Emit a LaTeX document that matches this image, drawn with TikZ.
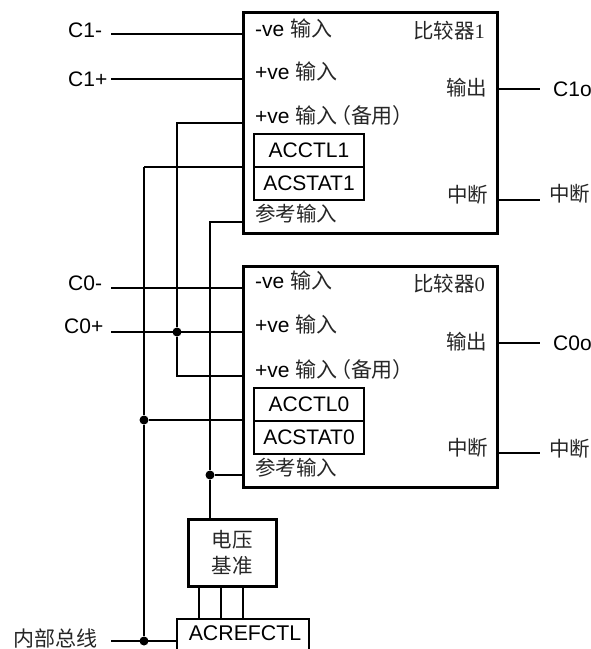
\documentclass[tikz,border=0pt]{standalone}
\usepackage{fontspec}
\setmainfont{Liberation Sans}
\newfontfamily\cjk{Noto Sans CJK SC}
\newfontfamily\numf{Liberation Serif}
\begin{document}
\begin{tikzpicture}[x=1pt,y=-1pt,
  cmpbox/.style={draw,line width=3pt,minimum width=254pt,minimum height=221pt,inner sep=0pt,outer sep=0pt},
  regbox/.style={draw,line width=1.2pt,minimum width=110pt,minimum height=33pt,inner sep=0pt,outer sep=0pt,font=\fontsize{21}{25}\selectfont},
  vrefbox/.style={draw,line width=3pt,minimum width=88pt,minimum height=67pt,inner sep=0pt,outer sep=0pt,align=center,font=\fontsize{20.5}{26}\selectfont\cjk\color{black!85}},
  txt/.style={anchor=base west,inner sep=0pt,font=\fontsize{21}{25}\selectfont},
  zh/.style={anchor=base west,inner sep=0pt,font=\fontsize{20.5}{25}\selectfont\cjk\color{black!85}},
  wire/.style={line width=1.3pt},
  thick bus/.style={line width=2.2pt},
  jdot/.style={circle,fill=black,inner sep=0pt,minimum size=9pt}]
\useasboundingbox (0,0) rectangle (591,649);
% ---- comparators
\node[cmpbox] (cmpA) at (370,123) {};
\node[cmpbox] (cmpB) at (370,376.5) {};
\node[regbox] (ctlA) at (309,150.5) {ACCTL1};
\node[regbox] (statA) at (309,183.5) {ACSTAT1};
\node[regbox] (ctlB) at (309,404.5) {ACCTL0};
\node[regbox] (statB) at (309,437.5) {ACSTAT0};
% ---- inner labels, comparator 1
\node[txt] (a1) at (255,36) {-ve {\cjk\color{black!85} 输入}};
\node[txt] (a2) at (255,79) {+ve {\cjk\color{black!85} 输入}};
\node[txt] (a3) at (255,123) {+ve {\cjk\color{black!85} 输入\kern-7pt（备\kern-1pt 用）}};
\node[zh] (a4) at (255,221) {参考输入};
\node[zh] (a5) at (413,38) {比较器{\numf 1}};
\node[zh] (a6) at (446,95) {输出};
\node[zh] (a7) at (447,202) {中断};
% ---- inner labels, comparator 0
\node[txt] (b1) at (255,288) {-ve {\cjk\color{black!85} 输入}};
\node[txt] (b2) at (255,332) {+ve {\cjk\color{black!85} 输入}};
\node[txt] (b3) at (255,377) {+ve {\cjk\color{black!85} 输入\kern-7pt（备\kern-1pt 用）}};
\node[zh] (b4) at (255,475) {参考输入};
\node[zh] (b5) at (413,291) {比较器{\numf 0}};
\node[zh] (b6) at (446,349) {输出};
\node[zh] (b7) at (447,455) {中断};
% ---- outer labels
\node[txt] (c1m) at (68,37) {C1-};
\node[txt] (c1p) at (68,86) {C1+};
\node[txt] (c0m) at (68,290) {C0-};
\node[txt] (c0p) at (64,333) {C0+};
\node[txt] (c1o) at (553,96) {C1o};
\node[txt] (c0o) at (553,350) {C0o};
\node[zh] (i1) at (549,201) {中断};
\node[zh] (i0) at (549,456) {中断};
\node[zh,font=\fontsize{21}{25}\selectfont\cjk\color{black!85}] (ibus) at (13,646) {内部总线};
% ---- voltage reference and ACREFCTL
\node[vrefbox] (vref) at (232,552.5) {电压\\基准};
\node[inner sep=0pt,font=\fontsize{21.3}{25}\selectfont,anchor=base] (acref) at (245,640) {ACREFCTL};
\draw[line width=1.2pt] (177,652) |- (309,619) -- (309,652);
% ---- free wire ends and ports
\coordinate (wC1m) at (111,34);
\coordinate (wC1p) at (111,79);
\coordinate (wC0m) at (111,288);
\coordinate (wC0p) at (111,332);
\coordinate (wBus) at (111,641);
\coordinate (pC1m) at (243,34);
\coordinate (pC1p) at (243,79);
\coordinate (pC1a) at (243,123);
\coordinate (pC1b) at (243,167);
\coordinate (pC1r) at (243,222);
\coordinate (pC0m) at (243,288);
\coordinate (pC0p) at (243,332);
\coordinate (pC0a) at (243,376);
\coordinate (pC0b) at (243,420);
\coordinate (pC0r) at (243,475);
\coordinate (oA1) at (497,89);
\coordinate (oA2) at (540,89);
\coordinate (oB1) at (497,200);
\coordinate (oB2) at (540,200);
\coordinate (oC1) at (497,343);
\coordinate (oC2) at (540,343);
\coordinate (oD1) at (497,453);
\coordinate (oD2) at (540,453);
\coordinate (cornA) at (177,123);
\coordinate (cornB) at (144,167);
\coordinate (cornC) at (210,222);
\coordinate (refTop) at (210,519);
\coordinate (acL) at (177,641);
\node[jdot] (dA) at (177,332) {};
\node[jdot] (dB) at (144,420) {};
\node[jdot] (dC) at (210,475) {};
\node[jdot] (dD) at (144,641) {};
% ---- wires
\draw[wire] (wC1m) -- (pC1m);
\draw[wire] (wC1p) -- (pC1p);
\draw[wire] (wC0m) -- (pC0m);
\draw[wire] (wC0p) -- (pC0p);
\draw[wire] (pC1a) -- (cornA) -- (dA);
\draw[wire] (dA) |- (pC0a);
\draw[wire] (pC1b) -- (cornB);
\draw[thick bus] (cornB) -- (dB);
\draw[thick bus] (dB) -- (dD);
\draw[wire] (dB) -- (pC0b);
\draw[wire] (pC1r) -- (cornC) -- (dC);
\draw[wire] (dC) -- (pC0r);
\draw[wire] (dC) -- (refTop);
\draw[thick bus] (wBus) -- (acL);
\draw[wire] (oA1) -- (oA2);
\draw[wire] (oB1) -- (oB2);
\draw[wire] (oC1) -- (oC2);
\draw[wire] (oD1) -- (oD2);
\foreach \xx in {199,221,243}{\draw[wire] (\xx,586) -- (\xx,619);}
\end{tikzpicture}
\end{document}
